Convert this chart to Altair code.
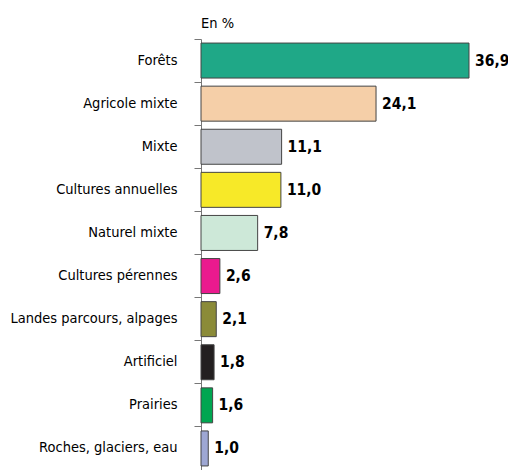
import altair as alt
import pandas as pd

categories = ["Forêts", "Agricole mixte", "Mixte", "Cultures annuelles", "Naturel mixte",
              "Cultures pérennes", "Landes parcours, alpages", "Artificiel", "Prairies",
              "Roches, glaciers, eau"]
values = [36.9, 24.1, 11.1, 11.0, 7.8, 2.6, 2.1, 1.8, 1.6, 1.0]
colors = ["#1fa887", "#f5cfa8", "#c0c3cb", "#f7e928", "#cde8d8",
          "#ea1a8e", "#8b8b38", "#231f20", "#00a651", "#9ea7d3"]

df = pd.DataFrame({"cat": categories, "val": values})

FONT = "DejaVu Sans Condensed, sans-serif"

y = alt.Y("cat:N", sort=categories, title=None,
          scale=alt.Scale(paddingInner=0, paddingOuter=0),
          axis=alt.Axis(bandPosition=0, tickSize=7, tickColor="#777", domainColor="#777",
                        labelPadding=17, labelFontSize=14.5, labelFont=FONT,
                        labelColor="#000", labelLimit=250))
x = alt.X("val:Q", scale=alt.Scale(domain=[0, 36.9], nice=False), axis=None)

bars = alt.Chart(df).mark_bar(size=35, stroke="#444", strokeWidth=1).encode(
    y=y, x=x,
    color=alt.Color("cat:N", scale=alt.Scale(domain=categories, range=colors), legend=None),
)
text = alt.Chart(df).transform_calculate(
    lab="replace(format(datum.val, '.1f'), '.', ',')"
).mark_text(align="left", dx=6, fontSize=15.5, font=FONT, fontWeight="bold", color="#000").encode(
    y=alt.Y("cat:N", sort=categories), x=x, text="lab:N"
)

chart = (bars + text).properties(
    width=268, height=431,
    title=alt.TitleParams("En %", anchor="start", frame="group", fontSize=14.5, font=FONT,
                          fontWeight="normal", color="#000", offset=7),
    padding={"left": 201, "top": 39, "right": 39, "bottom": 0},
    autosize=alt.AutoSizeParams(type="none"),
).configure_view(stroke=None)

chart.save("out.html", embed_options={"renderer": "svg", "actions": False})
